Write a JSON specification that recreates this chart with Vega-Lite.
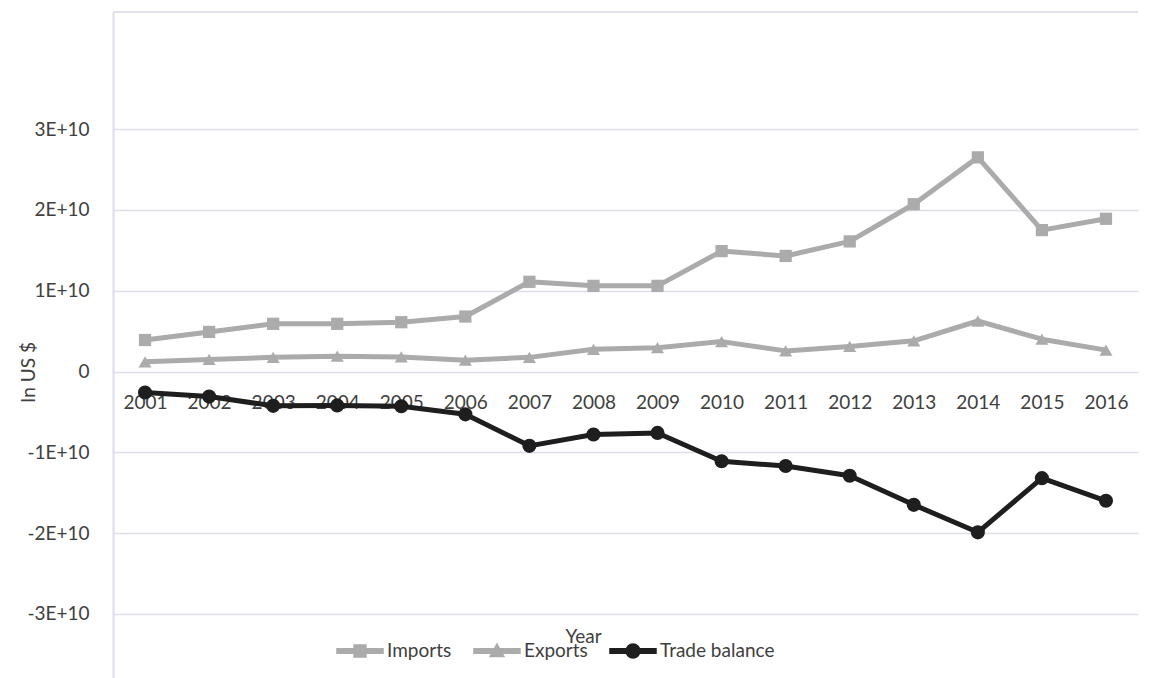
{
  "$schema": "https://vega.github.io/schema/vega-lite/v6.json",
  "autosize": "none",
  "width": 1025,
  "height": 666,
  "padding": {"left": 113, "top": 12, "right": 23, "bottom": 0},
  "background": "white",
  "config": {
    "view": {"stroke": null},
    "font": "Lato",
    "text": {"font": "Lato"}
  },
  "data": {
    "values": [
      {"year": "2001", "series": "Imports", "value": 3.9e9},
      {"year": "2002", "series": "Imports", "value": 4.9e9},
      {"year": "2003", "series": "Imports", "value": 5.9e9},
      {"year": "2004", "series": "Imports", "value": 5.9e9},
      {"year": "2005", "series": "Imports", "value": 6.1e9},
      {"year": "2006", "series": "Imports", "value": 6.8e9},
      {"year": "2007", "series": "Imports", "value": 1.11e10},
      {"year": "2008", "series": "Imports", "value": 1.06e10},
      {"year": "2009", "series": "Imports", "value": 1.06e10},
      {"year": "2010", "series": "Imports", "value": 1.49e10},
      {"year": "2011", "series": "Imports", "value": 1.43e10},
      {"year": "2012", "series": "Imports", "value": 1.61e10},
      {"year": "2013", "series": "Imports", "value": 2.07e10},
      {"year": "2014", "series": "Imports", "value": 2.65e10},
      {"year": "2015", "series": "Imports", "value": 1.75e10},
      {"year": "2016", "series": "Imports", "value": 1.89e10},
      {"year": "2001", "series": "Exports", "value": 1.2e9},
      {"year": "2002", "series": "Exports", "value": 1.5e9},
      {"year": "2003", "series": "Exports", "value": 1.75e9},
      {"year": "2004", "series": "Exports", "value": 1.9e9},
      {"year": "2005", "series": "Exports", "value": 1.8e9},
      {"year": "2006", "series": "Exports", "value": 1.4e9},
      {"year": "2007", "series": "Exports", "value": 1.75e9},
      {"year": "2008", "series": "Exports", "value": 2.75e9},
      {"year": "2009", "series": "Exports", "value": 2.95e9},
      {"year": "2010", "series": "Exports", "value": 3.7e9},
      {"year": "2011", "series": "Exports", "value": 2.55e9},
      {"year": "2012", "series": "Exports", "value": 3.1e9},
      {"year": "2013", "series": "Exports", "value": 3.8e9},
      {"year": "2014", "series": "Exports", "value": 6.25e9},
      {"year": "2015", "series": "Exports", "value": 4.0e9},
      {"year": "2016", "series": "Exports", "value": 2.65e9},
      {"year": "2001", "series": "Trade balance", "value": -2.6e9},
      {"year": "2002", "series": "Trade balance", "value": -3.1e9},
      {"year": "2003", "series": "Trade balance", "value": -4.25e9},
      {"year": "2004", "series": "Trade balance", "value": -4.2e9},
      {"year": "2005", "series": "Trade balance", "value": -4.3e9},
      {"year": "2006", "series": "Trade balance", "value": -5.3e9},
      {"year": "2007", "series": "Trade balance", "value": -9.2e9},
      {"year": "2008", "series": "Trade balance", "value": -7.8e9},
      {"year": "2009", "series": "Trade balance", "value": -7.6e9},
      {"year": "2010", "series": "Trade balance", "value": -1.11e10},
      {"year": "2011", "series": "Trade balance", "value": -1.17e10},
      {"year": "2012", "series": "Trade balance", "value": -1.29e10},
      {"year": "2013", "series": "Trade balance", "value": -1.65e10},
      {"year": "2014", "series": "Trade balance", "value": -1.99e10},
      {"year": "2015", "series": "Trade balance", "value": -1.32e10},
      {"year": "2016", "series": "Trade balance", "value": -1.6e10}
    ]
  },
  "layer": [
    {
      "mark": {"type": "rule", "color": "#e2e2ea", "strokeWidth": 1.5},
      "encoding": {"y": {"datum": 4.445e10}}
    },
    {
      "encoding": {
        "x": {
          "field": "year",
          "type": "ordinal",
          "scale": {"type": "point", "padding": 0.5},
          "axis": {
            "title": "Year",
            "offset": -306.5,
            "labelAngle": 0,
            "labelFont": "Lato",
            "labelFontSize": 19,
            "labelColor": "#404040",
            "labelBaseline": "alphabetic",
            "labelPadding": 37,
            "ticks": false,
            "domain": false,
            "grid": false,
            "titleFont": "Lato",
            "titleFontSize": 19,
            "titleFontWeight": "normal",
            "titleColor": "#404040",
            "titleX": 470,
            "titleY": 270.5,
            "titleBaseline": "alphabetic"
          }
        },
        "y": {
          "field": "value",
          "type": "quantitative",
          "scale": {"domain": [-3.793e10, 4.449e10], "nice": false, "zero": false},
          "axis": {
            "title": "In US $",
            "values": [-3e10, -2e10, -1e10, 0, 1e10, 2e10, 3e10],
            "labelExpr": "datum.value === 0 ? '0' : (datum.value / 1e10) + 'E+10'",
            "labelFont": "Lato",
            "labelFontSize": 19,
            "labelColor": "#404040",
            "labelPadding": 24,
            "ticks": false,
            "domain": true,
            "domainColor": "#dcdcea",
            "domainWidth": 2,
            "grid": true,
            "gridColor": "#dedee9",
            "gridWidth": 1.5,
            "titleFont": "Lato",
            "titleFontSize": 19,
            "titleFontWeight": "normal",
            "titleColor": "#404040",
            "titleX": -85,
            "titleY": 360,
            "titleAngle": -90,
            "titleAlign": "center",
            "titleBaseline": "middle"
          }
        },
        "color": {
          "field": "series",
          "type": "nominal",
          "scale": {
            "domain": ["Imports", "Exports", "Trade balance"],
            "range": ["#ababab", "#ababab", "#1e1e1e"]
          },
          "legend": {
            "title": null,
            "orient": "none",
            "direction": "horizontal",
            "legendX": 223,
            "legendY": 615,
            "labelFont": "Lato",
            "labelFontSize": 19,
            "labelColor": "#404040",
            "symbolSize": 2116,
            "labelOffset": 3,
            "columnPadding": 19,
            "encode": {
              "symbols": {
                "update": {
                  "shape": {"signal": "datum.value === 'Imports' ? 'M-1,-0.1L1,-0.1L1,0.1L-1,0.1Z M-0.26,-0.26L0.26,-0.26L0.26,0.26L-0.26,0.26Z' : datum.value === 'Exports' ? 'M-1,-0.1L1,-0.1L1,0.1L-1,0.1Z M0,-0.3L0.3,0.24L-0.3,0.24Z' : 'M-1,-0.1L1,-0.1L1,0.1L-1,0.1Z M-0.3,0A0.3,0.3 0 1,1 0.3,0A0.3,0.3 0 1,1 -0.3,0Z'"},
                  "fill": {"scale": "color", "field": "value"},
                  "stroke": {"value": "transparent"},
                  "opacity": {"value": 1},
                  "fillOpacity": {"value": 1},
                  "size": {"value": 2116}
                }
              }
            }
          }
        }
      },
      "layer": [
        {
          "mark": {"type": "line", "strokeWidth": 5, "strokeJoin": "round"},
          "encoding": {}
        },
        {
          "transform": [{"filter": "datum.series === 'Imports'"}],
          "mark": {"type": "point", "shape": "square", "filled": true, "opacity": 1, "size": 150},
          "encoding": {}
        },
        {
          "transform": [{"filter": "datum.series === 'Exports'"}],
          "mark": {"type": "point", "shape": "triangle-up", "filled": true, "opacity": 1, "size": 170},
          "encoding": {}
        },
        {
          "transform": [{"filter": "datum.series === 'Trade balance'"}],
          "mark": {"type": "point", "shape": "circle", "filled": true, "opacity": 1, "size": 200},
          "encoding": {}
        }
      ]
    }
  ]
}
